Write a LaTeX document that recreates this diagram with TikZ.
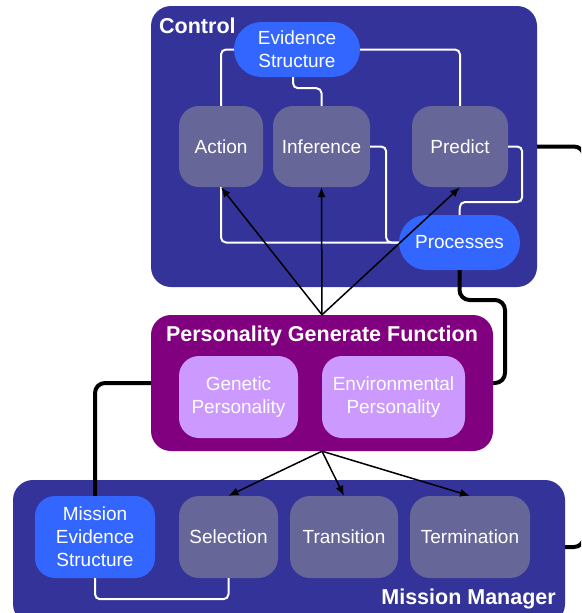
\documentclass[tikz,border=0pt]{standalone}
\usepackage{fontspec}
\setmainfont{Liberation Sans}
\usetikzlibrary{arrows.meta}
\definecolor{ctrlbg}{HTML}{333399}
\definecolor{graybox}{HTML}{666699}
\definecolor{bluebox}{HTML}{3366FF}
\definecolor{magbox}{HTML}{800080}
\definecolor{lilac}{HTML}{CC99FF}
\tikzset{
  big/.style={draw=none, rounded corners=20pt, inner sep=0pt},
  inner/.style={draw=none, rounded corners=20pt, inner sep=0pt, align=center, text=white,
     font=\fontsize{19}{23}\selectfont},
  graynode/.style={inner, fill=graybox, minimum height=81pt},
  pill/.style={inner, fill=bluebox, minimum height=55pt, rounded corners=27.5pt},
  lilacnode/.style={inner, fill=lilac, minimum height=82pt},
  wline/.style={draw=white, line width=2pt, rounded corners=5pt},
  bline/.style={draw=black, line width=1.5pt, -{Latex[length=10pt,width=8pt]}},
  tline/.style={draw=black, line width=4pt, rounded corners=10pt},
  lbl/.style={text=white, font=\bfseries\fontsize{21.5}{25}\selectfont, inner sep=0pt}
}
\begin{document}
\begin{tikzpicture}[x=1pt,y=-1pt]
\clip (0,0) rectangle (581,613);
\fill[white] (0,0) rectangle (581,613);
% big boxes
\node[big, fill=ctrlbg, minimum width=386pt, minimum height=281pt] (control) at (344,146.5) {};
\node[big, fill=magbox, minimum width=342pt, minimum height=136pt] (pg) at (322,383) {};
\node[big, fill=ctrlbg, minimum width=552pt, minimum height=144pt] (mm) at (289,552) {};
% labels
\node[lbl, anchor=base west] (ctrllbl) at (159,33) {Control};
\node[lbl, anchor=base] (pglbl) at (322,341) {Personality Generate Function};
\node[lbl, anchor=base east] (mmlbl) at (556,604) {Mission Manager};
% control inner nodes
\node[pill, minimum width=126pt] (es) at (297,49.5) {Evidence\\Structure};
\node[graynode, minimum width=84pt] (action) at (221,146.5) {Action};
\node[graynode, minimum width=97pt] (inference) at (321.5,146.5) {Inference};
\node[graynode, minimum width=96pt] (predict) at (460,146.5) {Predict};
\node[pill, minimum width=121pt] (processes) at (459.5,242.5) {Processes};
% personality inner nodes
\node[lilacnode, minimum width=119pt] (genetic) at (238.5,397) {Genetic\\Personality};
\node[lilacnode, minimum width=143pt] (env) at (393.5,397) {Environmental\\Personality};
% mission manager inner nodes
\node[inner, fill=bluebox, minimum width=120pt, minimum height=82pt] (mes) at (95,537) {Mission\\Evidence\\Structure};
\node[graynode, minimum width=99pt, minimum height=82pt] (selection) at (228.5,537) {Selection};
\node[graynode, minimum width=108pt, minimum height=82pt] (transition) at (344,537) {Transition};
\node[graynode, minimum width=120pt, minimum height=82pt] (termination) at (470,537) {Termination};
% white connectors
\coordinate (pk) at (460,202);
\draw[wline] (es.west) -| (action.north);
\draw[wline] ([xshift=-4pt]es.south) -- ++(0,11) -| (inference.north);
\draw[wline] (es.east) -| (predict.north);
\draw[wline] (inference.east) -- ++(16,0) |- (processes.west);
\draw[wline] (action.south) |- (processes.west);
\draw[wline] (predict.east) -- ++(14,0) |- (pk) -- (processes.north);
\draw[wline] (mes.south) -- ++(0,21) -| (selection.south);
% black arrows
\draw[bline] (pg.north) -- (action.south);
\draw[bline] (pg.north) -- (inference.south);
\draw[bline] (pg.north) -- (predict.south);
\draw[bline] (pg.south) -- (selection.north);
\draw[bline] (pg.south) -- (transition.north);
\draw[bline] (pg.south) -- (termination.north);
% thick connectors
\coordinate (rr) at (584,350);
\coordinate (pq) at (505,300);
\draw[tline] (control.east) -| (rr) |- ([yshift=5pt]mm.east);
\draw[tline] (processes.south) |- (pq) |- (pg.east);
\draw[tline] (pg.west) -| (mes.north);
\end{tikzpicture}
\end{document}
